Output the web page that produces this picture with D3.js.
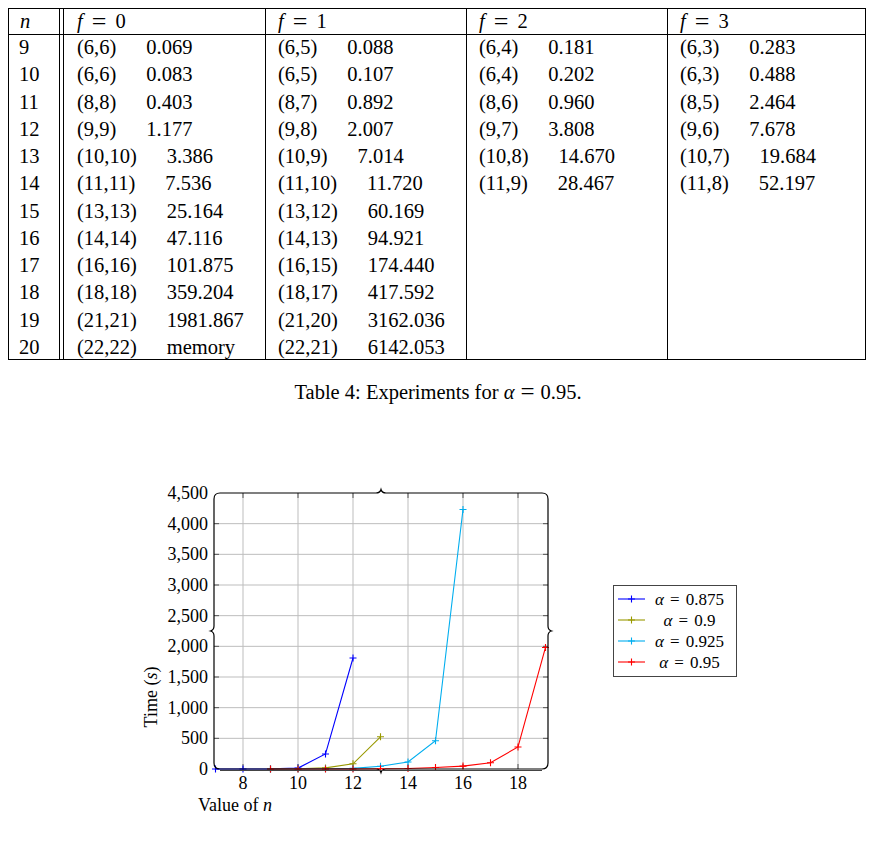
<!DOCTYPE html>
<html>
<head>
<meta charset="utf-8">
<script src="https://cdn.jsdelivr.net/npm/d3@7/dist/d3.min.js"></script>
<style>
  html, body { margin: 0; padding: 0; background: #fff; }
  svg { display: block; }
  text { font-family: "Liberation Serif", "Times New Roman", serif; fill: #000; }
</style>
</head>
<body>
<svg id="chart" width="874" height="841"></svg>
<script>
// ---------------- Table data ----------------
const nValues = [9, 10, 11, 12, 13, 14, 15, 16, 17, 18, 19, 20];
const fHeaders = ["0", "1", "2", "3"];
const f0Pairs = ["(6,6)", "(6,6)", "(8,8)", "(9,9)", "(10,10)", "(11,11)", "(13,13)", "(14,14)", "(16,16)", "(18,18)", "(21,21)", "(22,22)"];
const f0Times = ["0.069", "0.083", "0.403", "1.177", "3.386", "7.536", "25.164", "47.116", "101.875", "359.204", "1981.867", "memory"];
const f1Pairs = ["(6,5)", "(6,5)", "(8,7)", "(9,8)", "(10,9)", "(11,10)", "(13,12)", "(14,13)", "(16,15)", "(18,17)", "(21,20)", "(22,21)"];
const f1Times = ["0.088", "0.107", "0.892", "2.007", "7.014", "11.720", "60.169", "94.921", "174.440", "417.592", "3162.036", "6142.053"];
const f2Pairs = ["(6,4)", "(6,4)", "(8,6)", "(9,7)", "(10,8)", "(11,9)"];
const f2Times = ["0.181", "0.202", "0.960", "3.808", "14.670", "28.467"];
const f3Pairs = ["(6,3)", "(6,3)", "(8,5)", "(9,6)", "(10,7)", "(11,8)"];
const f3Times = ["0.283", "0.488", "2.464", "7.678", "19.684", "52.197"];
const captionText = "Table 4: Experiments for ";
const captionAlpha = "0.95";

// ---------------- Chart data ----------------
const seriesLabels = ["0.875", "0.9", "0.925", "0.95"];
const seriesColors = ["#0000ff", "#999900", "#00aeef", "#ff0000"];
const n0875 = [7, 8, 9, 10, 11, 12];
const t0875 = [0.1, 0.3, 2, 15, 245, 1810];
const n090 = [9, 10, 11, 12, 13];
const t090 = [1, 3, 18, 85, 525];
const n0925 = [9, 10, 11, 12, 13, 14, 15, 16];
const t0925 = [0.5, 1, 3, 10, 45, 115, 460, 4230];
const n095 = [9, 10, 11, 12, 13, 14, 15, 16, 17, 18, 19];
const t095 = [0.069, 0.083, 0.403, 1.177, 3.386, 7.536, 25.164, 47.116, 101.875, 359.204, 1981.867];
const xTicks = [8, 10, 12, 14, 16, 18];
const yTicks = [0, 500, 1000, 1500, 2000, 2500, 3000, 3500, 4000, 4500];
const xLabel = "Value of ";
const yLabel = "Time (";

const svg = d3.select("#chart");

// math-like "v = rhs" with wide spacing around "="
function mathEq(textSel, sym, rhs, gap, eqSize, eqDy) {
  textSel.append("tspan").attr("font-style", "italic").text(sym);
  textSel.append("tspan").attr("dx", gap).attr("dy", eqDy).attr("font-size", eqSize).text("=");
  textSel.append("tspan").attr("dx", gap).attr("dy", -eqDy).text(rhs);
}

// ================= TABLE =================
const T = { left: 8, right: 866, top: 8, bottom: 360, headBottom: 34 };
const colLines = [265, 466, 667];
const colStarts = [77, 278, 479, 680];
const rowScale = d3.scaleLinear().domain([0, nValues.length - 1]).range([47, 347]);
const tfs = 20.5;
const tg = svg.append("g");

tg.append("rect").attr("x", T.left + 0.5).attr("y", T.top + 0.5)
  .attr("width", T.right - T.left - 1).attr("height", T.bottom - T.top - 1)
  .attr("fill", "none").attr("stroke", "#000").attr("stroke-width", 1);
tg.append("line").attr("x1", T.left).attr("x2", T.right).attr("y1", T.headBottom + 0.5).attr("y2", T.headBottom + 0.5)
  .attr("stroke", "#000");
[59.5, 63.5].concat(colLines.map(d => d + 0.5)).forEach(x => {
  tg.append("line").attr("x1", x).attr("x2", x).attr("y1", T.top).attr("y2", T.bottom).attr("stroke", "#000");
});

// header
tg.append("text").attr("x", 20).attr("y", 28).attr("font-size", tfs).attr("font-style", "italic").text("n");
fHeaders.forEach((h, i) => {
  const t = tg.append("text").attr("x", colStarts[i]).attr("y", 28).attr("font-size", tfs);
  mathEq(t, "f", h, 9, 26, 1.5);
});

const cols = [[f0Pairs, f0Times], [f1Pairs, f1Times], [f2Pairs, f2Times], [f3Pairs, f3Times]];
nValues.forEach((n, r) => {
  const y = rowScale(r) + 7;
  tg.append("text").attr("x", 19).attr("y", y).attr("font-size", tfs).text(n);
});
cols.forEach(([pairs, times], c) => {
  pairs.forEach((p, r) => {
    const y = rowScale(r) + 7;
    const pt = tg.append("text").attr("x", colStarts[c]).attr("y", y).attr("font-size", tfs).text(p);
    const w = pt.node().getComputedTextLength();
    tg.append("text").attr("x", colStarts[c] + w + 30).attr("y", y).attr("font-size", tfs).text(times[r]);
  });
});

// caption
const cap = tg.append("text").attr("x", 438).attr("y", 399).attr("font-size", tfs).attr("text-anchor", "middle");
cap.append("tspan").text(captionText);
mathEq(cap, "α", captionAlpha, 6, 25, 1);
cap.append("tspan").text(".");

// ================= CHART =================
const x = d3.scaleLinear().domain([7, 19]).range([215.5, 545.5]);
const y = d3.scaleLinear().domain([0, 4500]).range([769, 493]);
const F = { l: 214, r: 548, t: 493, b: 769 };
const cg = svg.append("g");

// grid
cg.selectAll(".gx").data(xTicks).join("line")
  .attr("x1", d => x(d)).attr("x2", d => x(d)).attr("y1", F.t).attr("y2", F.b)
  .attr("stroke", "#bdbdbd").attr("stroke-width", 1);
cg.selectAll(".gy").data(yTicks.slice(1, -1)).join("line")
  .attr("x1", F.l).attr("x2", F.r).attr("y1", d => y(d)).attr("y2", d => y(d))
  .attr("stroke", "#bdbdbd").attr("stroke-width", 1);

// inner ticks
cg.selectAll(".tyl").data(yTicks.slice(1, -1)).join("line")
  .attr("x1", F.l).attr("x2", F.l + 5).attr("y1", d => y(d)).attr("y2", d => y(d)).attr("stroke", "#555");
cg.selectAll(".tyr").data(yTicks.slice(1, -1)).join("line")
  .attr("x1", F.r - 5).attr("x2", F.r).attr("y1", d => y(d)).attr("y2", d => y(d)).attr("stroke", "#555");
cg.selectAll(".txb").data(xTicks).join("line")
  .attr("x1", d => x(d)).attr("x2", d => x(d)).attr("y1", F.b - 5).attr("y2", F.b).attr("stroke", "#555");
cg.selectAll(".txt").data(xTicks).join("line")
  .attr("x1", d => x(d)).attr("x2", d => x(d)).attr("y1", F.t).attr("y2", F.t + 5).attr("stroke", "#555");

// series
const allSeries = [[n0875, t0875], [n090, t090], [n0925, t0925], [n095, t095]];
const line = d3.line().x(d => x(d[0])).y(d => y(d[1]));
const plus = "M-3.5,0H3.5M0,-3.5V3.5";
allSeries.forEach(([ns, ts], i) => {
  const pts = ns.map((n, k) => [n, ts[k]]);
  cg.append("path").datum(pts).attr("d", line).attr("fill", "none")
    .attr("stroke", seriesColors[i]).attr("stroke-width", 1.1);
  cg.selectAll(null).data(pts).join("path")
    .attr("transform", d => `translate(${x(d[0])},${y(d[1])})`)
    .attr("d", plus).attr("stroke", seriesColors[i]).attr("stroke-width", 1.1);
});

// frame with small brace notches
const mx = (F.l + F.r) / 2, my = (F.t + F.b) / 2, r = 6, a = 3.5, s = 5;
const fp = d3.path();
fp.moveTo(F.l + r, F.t);
fp.lineTo(mx - s, F.t); fp.quadraticCurveTo(mx - 1, F.t, mx, F.t - a); fp.quadraticCurveTo(mx + 1, F.t, mx + s, F.t);
fp.lineTo(F.r - r, F.t); fp.quadraticCurveTo(F.r, F.t, F.r, F.t + r);
fp.lineTo(F.r, my - s); fp.quadraticCurveTo(F.r, my - 1, F.r + a, my); fp.quadraticCurveTo(F.r, my + 1, F.r, my + s);
fp.lineTo(F.r, F.b - r); fp.quadraticCurveTo(F.r, F.b, F.r - r, F.b);
fp.lineTo(mx + s, F.b); fp.quadraticCurveTo(mx + 1, F.b, mx, F.b + a); fp.quadraticCurveTo(mx - 1, F.b, mx - s, F.b);
fp.lineTo(F.l + r, F.b); fp.quadraticCurveTo(F.l, F.b, F.l, F.b - r);
fp.lineTo(F.l, my + s); fp.quadraticCurveTo(F.l, my + 1, F.l - a, my); fp.quadraticCurveTo(F.l, my - 1, F.l, my - s);
fp.lineTo(F.l, F.t + r); fp.quadraticCurveTo(F.l, F.t, F.l + r, F.t);
fp.closePath();
cg.append("path").attr("d", fp.toString()).attr("fill", "none").attr("stroke", "#000").attr("stroke-width", 1.2);
cg.append("line").attr("x1", F.l + r).attr("x2", F.r - r).attr("y1", F.b + 1.5).attr("y2", F.b + 1.5)
  .attr("stroke", "#444").attr("stroke-width", 1);

// tick labels
const fmt = d3.format(",");
const cfs = 18;
cg.selectAll(".yl").data(yTicks).join("text")
  .attr("x", 208).attr("y", d => y(d) + 6).attr("text-anchor", "end").attr("font-size", cfs)
  .text(d => fmt(d));
cg.selectAll(".xl").data(xTicks).join("text")
  .attr("x", d => x(d)).attr("y", 789).attr("text-anchor", "middle").attr("font-size", cfs)
  .text(d => d);

// axis labels
const xl = cg.append("text").attr("x", 198).attr("y", 811).attr("font-size", cfs);
xl.append("tspan").text(xLabel);
xl.append("tspan").attr("font-style", "italic").text("n");
const yl = cg.append("text").attr("transform", "translate(157,697) rotate(-90)")
  .attr("text-anchor", "middle").attr("font-size", cfs);
yl.append("tspan").text(yLabel);
yl.append("tspan").attr("font-style", "italic").text("s");
yl.append("tspan").text(")");

// legend
const lg = cg.append("g");
lg.append("rect").attr("x", 613.5).attr("y", 585.5).attr("width", 123).attr("height", 91)
  .attr("fill", "#fff").attr("stroke", "#444").attr("stroke-width", 1);
const legY = [599, 620, 641, 662];
seriesLabels.forEach((lab, i) => {
  lg.append("line").attr("x1", 618).attr("x2", 645).attr("y1", legY[i]).attr("y2", legY[i])
    .attr("stroke", seriesColors[i]).attr("stroke-width", 1.1);
  lg.append("path").attr("transform", `translate(631.5,${legY[i]})`).attr("d", plus)
    .attr("stroke", seriesColors[i]).attr("stroke-width", 1.1);
  const t = lg.append("text").attr("x", 689.5).attr("y", legY[i] + 6).attr("text-anchor", "middle").attr("font-size", 17);
  mathEq(t, "α", lab, 6, 17, 0);
});
</script>
</body>
</html>
